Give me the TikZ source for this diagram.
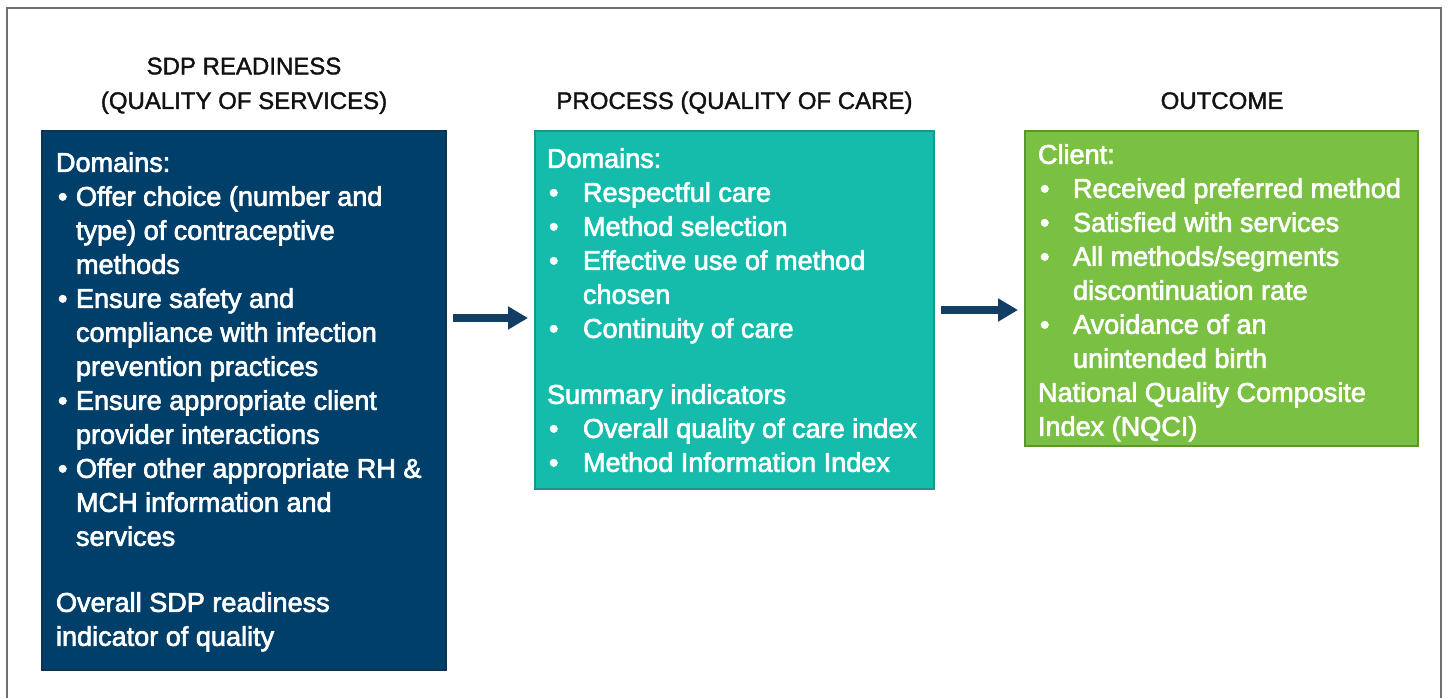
\documentclass[tikz,border=0pt]{standalone}
\usepackage{fontspec}
\setmainfont{Liberation Sans}
\newfontfamily\medfont[FakeBold=2.5]{Liberation Sans}
\newfontfamily\headfont[FakeBold=1.5]{Liberation Sans}
\usetikzlibrary{arrows.meta}

\definecolor{sdpblue}{RGB}{0,63,106}
\definecolor{sdpedge}{RGB}{10,52,84}
\definecolor{procteal}{RGB}{21,187,171}
\definecolor{procedge}{RGB}{28,150,138}
\definecolor{outgreen}{RGB}{122,192,66}
\definecolor{outedge}{RGB}{88,150,48}
\definecolor{flownavy}{RGB}{18,62,100}
\definecolor{framegray}{RGB}{112,112,112}

% bullet item and continuation line, #1 = indent of the text
\newcommand\itm[2]{\makebox[#1][l]{\hspace{1.5pt}\textbullet}#2}
\newcommand\cnt[2]{\hspace*{#1}#2}

\begin{document}
\begin{tikzpicture}[x=.75pt,y=-.75pt,
  box/.style={line width=0.8pt,inner sep=0pt,outer sep=0pt},
  body/.style={inner sep=0pt,outer sep=0pt,anchor=north west,align=left,text=white,font=\medfont\fontsize{20.3}{25.5}\selectfont},
  head/.style={inner sep=0pt,outer sep=0pt,anchor=base,align=center,text={rgb,255:red,17;green,17;blue,17},font=\headfont\fontsize{18}{26}\selectfont},
  flow/.style={draw=flownavy,line width=5.5pt,-{Triangle[length=15pt,width=16.5pt]},shorten <=5.25pt,shorten >=5.25pt}]
\path[use as bounding box] (0,0) rectangle (1448,698);
\draw[draw=framegray,line width=1.5pt] (7,698) -- (7,8) -- (1441,8) -- (1441,698);

% the three columns
\node[box,fill=sdpblue,draw=sdpedge,minimum width=303pt,minimum height=404.25pt] (sdp) at (244,400.5) {};
\node[box,fill=procteal,draw=procedge,minimum width=299.25pt,minimum height=268.5pt] (proc) at (734.5,310) {};
\node[box,fill=outgreen,draw=outedge,minimum width=294.75pt,minimum height=236.25pt] (outc) at (1221.5,288.5) {};

\node[head] (sdphead) at (244,109) {SDP READINESS\\(QUALITY OF SERVICES)};
\node[head] (prochead) at (734.5,109) {PROCESS (QUALITY OF CARE)};
\node[head] (outhead) at (1222,109) {OUTCOME};

\node[body] (sdptext) at (56,148) {\strut Domains:\\
\itm{15pt}{Offer choice (number and}\\
\cnt{15pt}{type) of contraceptive}\\
\cnt{15pt}{methods}\\
\itm{15pt}{Ensure safety and}\\
\cnt{15pt}{compliance with infection}\\
\cnt{15pt}{prevention practices}\\
\itm{15pt}{Ensure appropriate client}\\
\cnt{15pt}{provider interactions}\\
\itm{15pt}{Offer other appropriate RH \&}\\
\cnt{15pt}{MCH information and}\\
\cnt{15pt}{services}\\[24pt]
Overall SDP readiness\\
indicator of quality};

\node[body] (proctext) at (547,144) {\strut Domains:\\
\itm{27pt}{Respectful care}\\
\itm{27pt}{Method selection}\\
\itm{27pt}{Effective use of method}\\
\cnt{27pt}{chosen}\\
\itm{27pt}{Continuity of care}\\[24pt]
Summary indicators\\
\itm{27pt}{Overall quality of care index}\\
\itm{27pt}{Method Information Index}};

\node[body] (outtext) at (1038,140) {\strut Client:\\
\itm{26.25pt}{Received preferred method}\\
\itm{26.25pt}{Satisfied with services}\\
\itm{26.25pt}{All methods/segments}\\
\cnt{26.25pt}{discontinuation rate}\\
\itm{26.25pt}{Avoidance of an}\\
\cnt{26.25pt}{unintended birth}\\
National Quality Composite\\
Index (NQCI)};

\coordinate (a1) at ([yshift=-6pt]proc.west);
\draw[flow] (sdp.east |- a1) -- (a1);
\draw[flow] (proc.east) -- (outc.west |- proc.east);
\end{tikzpicture}
\end{document}
